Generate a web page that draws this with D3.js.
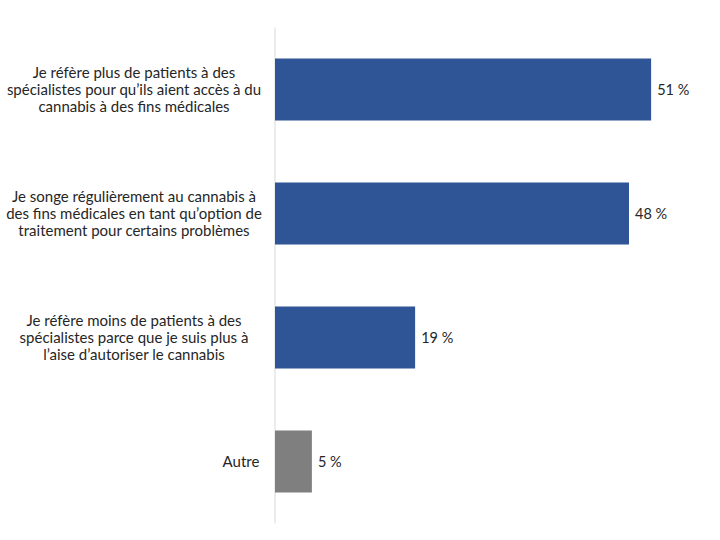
<!DOCTYPE html>
<html>
<head>
<meta charset="utf-8">
<script src="https://cdn.jsdelivr.net/npm/d3@7"></script>
<style>
  html, body { margin: 0; padding: 0; background: #fff; }
  svg { display: block; }
</style>
</head>
<body>
<svg id="chart" width="720" height="540"></svg>
<script>
const categories = [
  "Je réfère plus de patients à des\nspécialistes pour qu’ils aient accès à du\ncannabis à des fins médicales",
  "Je songe régulièrement au cannabis à\ndes fins médicales en tant qu’option de\ntraitement pour certains problèmes",
  "Je réfère moins de patients à des\nspécialistes parce que je suis plus à\nl’aise d’autoriser le cannabis",
  "Autre"
];
const values = [51, 48, 19, 5];
const valueLabels = ["51 %", "48 %", "19 %", "5 %"];
const colors = ["#2F5597", "#2F5597", "#2F5597", "#7F7F7F"];

const svg = d3.select("#chart");
const font = "Lato, 'Open Sans', sans-serif";

const x = d3.scaleLinear().domain([0, 60]).range([275, 717.5]);
const y = d3.scaleBand().domain(categories).range([27.5, 523.5])
  .paddingInner(0.5).paddingOuter(0.25);

// axis line
svg.append("line")
  .attr("x1", x(0)).attr("x2", x(0))
  .attr("y1", y.range()[0]).attr("y2", y.range()[1])
  .attr("stroke", "#D9D9D9").attr("stroke-width", 1);

// bars
svg.selectAll("rect.bar").data(values).join("rect")
  .attr("class", "bar")
  .attr("x", x(0))
  .attr("y", (d, i) => y(categories[i]))
  .attr("width", d => x(d) - x(0))
  .attr("height", y.bandwidth())
  .attr("fill", (d, i) => colors[i]);

// value labels
svg.selectAll("text.val").data(values).join("text")
  .attr("class", "val")
  .attr("x", d => x(d) + 6)
  .attr("y", (d, i) => y(categories[i]) + y.bandwidth() / 2)
  .attr("dy", "0.35em")
  .attr("font-family", font).attr("font-size", 14.5)
  .attr("fill", "#262626")
  .text((d, i) => valueLabels[i]);

// category labels
const lineH = 17;
categories.forEach((c, i) => {
  const lines = c.split("\n");
  const cy = y(c) + y.bandwidth() / 2;
  const t = svg.append("text")
    .attr("text-anchor", "middle")
    .attr("font-family", font).attr("font-size", 15)
    .attr("fill", "#262626");
  lines.forEach((ln, j) => {
    t.append("tspan")
      .attr("x", c === "Autre" ? 241 : 134)
      .attr("y", cy + (j - (lines.length - 1) / 2) * lineH)
      .attr("dy", "0.35em")
      .text(ln);
  });
});
</script>
</body>
</html>
